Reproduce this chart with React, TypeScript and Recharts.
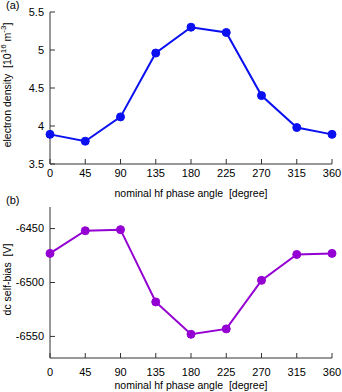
import React from "react";
import {
  LineChart,
  Line,
  XAxis,
  YAxis,
} from "recharts";

// phase angle in degrees
const angles = [0, 45, 90, 135, 180, 225, 270, 315, 360];
// electron density in 10^16 m^-3
const density = [3.89, 3.8, 4.12, 4.96, 5.3, 5.23, 4.4, 3.98, 3.89];
// dc self-bias in V
const selfBias = [-6473, -6452, -6451, -6518, -6548, -6543, -6498, -6474, -6473];

const densityTicks = [3.5, 4, 4.5, 5, 5.5];
const biasTicks = [-6550, -6500, -6450];

const FONT = "'Liberation Sans', Arial, sans-serif";

const densityData = angles.map((a, i) => ({ angle: a, value: density[i] }));
const biasData = angles.map((a, i) => ({ angle: a, value: selfBias[i] }));

const tickStyle = { fontSize: 11, fill: "#000", fontFamily: FONT };
const axisStroke = "#333";

const EmptyTick = () => <g />;

function YLabel({ cx, cy, children }: any) {
  return (
    <text
      x={cx}
      y={cy}
      transform={`rotate(-90 ${cx} ${cy})`}
      textAnchor="middle"
      dominantBaseline="central"
      fontSize={10.5}
      fontFamily={FONT}
      fill="#000"
    >
      {children}
    </text>
  );
}

function Panel({
  data,
  color,
  domain,
  ticks,
  height,
  top,
  xAxisHeight,
  tickGap,
  labelOffset,
  yLabel,
}: any) {
  return (
    <LineChart
      width={342}
      height={height}
      data={data}
      margin={{ top, right: 10, bottom: 0, left: 0 }}
    >
      <XAxis
        dataKey="angle"
        type="number"
        domain={[0, 360]}
        ticks={angles}
        tickSize={-5}
        tickMargin={tickGap}
        tick={tickStyle}
        stroke={axisStroke}
        height={xAxisHeight}
        label={{
          value: "nominal hf phase angle\u00a0\u00a0[degree]",
          position: "insideBottom",
          offset: labelOffset,
          style: { fontSize: 10.5, fill: "#000", fontFamily: FONT },
        }}
      />
      <XAxis
        xAxisId="top"
        orientation="top"
        type="number"
        domain={[0, 360]}
        ticks={angles}
        tickSize={-5}
        tick={EmptyTick}
        stroke={axisStroke}
        height={0}
      />
      <YAxis
        type="number"
        domain={domain}
        ticks={ticks}
        tickSize={-5}
        tickMargin={11}
        tick={tickStyle}
        stroke={axisStroke}
        width={50}
        label={(p: any) => {
          const vb = p.viewBox;
          return <YLabel cx={7} cy={vb.y + vb.height / 2 - 3}>{yLabel}</YLabel>;
        }}
      />
      <YAxis
        yAxisId="right"
        orientation="right"
        type="number"
        domain={domain}
        ticks={ticks}
        tickSize={-5}
        tick={EmptyTick}
        stroke={axisStroke}
        width={0}
      />
      <Line
        dataKey="value"
        stroke={color}
        strokeWidth={2}
        dot={{ r: 4, fill: color, stroke: color, strokeWidth: 1 }}
        isAnimationActive={false}
      />
    </LineChart>
  );
}

export default function App() {
  return (
    <div
      style={{
        position: "absolute",
        left: 0,
        top: 0,
        width: 342,
        height: 392,
        background: "#fff",
        fontFamily: FONT,
      }}
    >
      <span style={{ position: "absolute", left: 6, top: -1, fontSize: 11 }}>(a)</span>
      <span style={{ position: "absolute", left: 6, top: 194, fontSize: 11 }}>(b)</span>
      <div style={{ position: "absolute", left: 0, top: 0 }}>
        <Panel
          data={densityData}
          color="#0a10f0"
          domain={[3.5, 5.5]}
          ticks={densityTicks}
          height={200}
          top={12}
          xAxisHeight={36}
          tickGap={10}
          labelOffset={3}
          yLabel={
            <>
              electron density{"\u00a0\u00a0"}[10
              <tspan dy={-4} fontSize={8}>16</tspan>
              <tspan dy={4}>{"\u00a0"}m</tspan>
              <tspan dy={-4} fontSize={8}>-3</tspan>
              <tspan dy={4}>]</tspan>
            </>
          }
        />
      </div>
      <div style={{ position: "absolute", left: 0, top: 200 }}>
        <Panel
          data={biasData}
          color="#9400d3"
          domain={[-6570, -6430]}
          ticks={biasTicks}
          height={192}
          top={7}
          xAxisHeight={34}
          tickGap={15}
          labelOffset={3}
          yLabel={"dc self-bias\u00a0\u00a0[V]"}
        />
      </div>
    </div>
  );
}
